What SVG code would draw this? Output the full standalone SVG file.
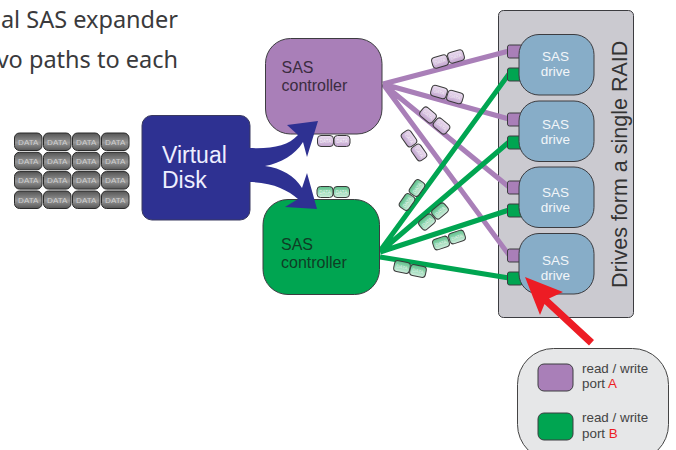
<svg xmlns="http://www.w3.org/2000/svg" width="676" height="450" viewBox="0 0 676 450">
<style>
text{font-family:"Liberation Sans",Arial,sans-serif}
.hd{font-family:"Noto Sans",sans-serif;font-size:23.500px;fill:#3a3a3c;text-anchor:end}
.node{stroke:#3c3c40;stroke-width:1}
.pu{fill:#a97fb8}.gr{fill:#00a551}.bl{fill:#87adc8}
.ctl{font-size:16px;fill:#3b2c40}
.ctg{font-size:16px;fill:#0f3d25}
.dr{font-size:13.5px;fill:#f2f6f9;text-anchor:middle}
.lg{font-size:13.4px;fill:#444}
.red{fill:#ed1c24}
.lp{stroke:#a97fb8;stroke-width:5;fill:none}
.lgn{stroke:#00a551;stroke-width:5;fill:none}
.tile rect{fill:url(#gt);stroke:#2a2a2a;stroke-width:1}
.tile text{font-size:8px;fill:#cfcfcf;text-anchor:middle}
.cp rect{fill:url(#gp);stroke:#3a3a3a;stroke-width:1}
.cg rect{fill:url(#gg);stroke:#3a3a3a;stroke-width:1}
.cp text,.cg text{font-size:4.5px;fill:#fff;text-anchor:middle;fill-opacity:.75}
</style>
<defs>
<linearGradient id="gt" x1="0" y1="0" x2="0" y2="1"><stop offset="0" stop-color="#555"/><stop offset=".55" stop-color="#969696"/><stop offset="1" stop-color="#555"/></linearGradient>
<linearGradient id="gp" x1="0" y1="0" x2="0" y2="1"><stop offset="0" stop-color="#ecdff1"/><stop offset="1" stop-color="#c3a6cf"/></linearGradient>
<linearGradient id="gg" x1="0" y1="0" x2="0" y2="1"><stop offset="0" stop-color="#5dc08a"/><stop offset="1" stop-color="#d2f0e0"/></linearGradient>
</defs>
<text class="hd" x="178" y="28">al SAS expander</text>
<text class="hd" x="178" y="68">vo paths to each</text>

<g id="raid-panel">
<rect x="498.500" y="10.500" width="135" height="307" rx="5" fill="#cbcad0" stroke="#3c3c40"/>
<text transform="translate(627,288) rotate(-90)" font-size="21.500" fill="#333">Drives form a single RAID</text>
</g>

<g id="connectors">
<path class="lp" d="M383,84L509,51M383,84L509,119M383,84L509,187M383,84L509,255"/>
<path class="lgn" d="M380,251L509,74M380,252L509,142M380,252L509,210M380,257L509,278"/>
</g>

<g id="virtual-disk">
<rect x="142" y="115.500" width="108" height="104.500" rx="10" fill="#2e3192" stroke="#3a3a60"/>
<text x="162" y="163" font-size="23" fill="#eef">Virtual</text>
<text x="162" y="188" font-size="23" fill="#eef">Disk</text>
</g>

<g id="controller-a">
<rect class="node pu" x="265.500" y="38.500" width="116.500" height="95.500" rx="25"/>
<text class="ctl" x="281.500" y="73">SAS</text>
<text class="ctl" x="281.500" y="91">controller</text>
</g>
<g id="controller-b">
<rect class="node gr" x="263" y="199.500" width="116.500" height="95" rx="25"/>
<text class="ctg" x="281" y="250">SAS</text>
<text class="ctg" x="281" y="268">controller</text>
</g>

<g id="flow-arrows" fill="#2e3192">
<path d="M249,148C272,149 288,146 298,135L287,125L318,121L307,157L303,142C295,155 281,163 265,166C281,168 295,176 302,188L307,173L317,209L285,207L298,199C288,190 272,182 249,182Z"/>
</g>

<g id="data-tiles">
<g class="tile"><rect x="14.500" y="133" width="27.500" height="17.500" rx="5"/><text x="28.200" y="144.800">DATA</text></g>
<g class="tile"><rect x="43.500" y="133" width="27.500" height="17.500" rx="5"/><text x="57.200" y="144.800">DATA</text></g>
<g class="tile"><rect x="72.500" y="133" width="27.500" height="17.500" rx="5"/><text x="86.200" y="144.800">DATA</text></g>
<g class="tile"><rect x="101.500" y="133" width="27.500" height="17.500" rx="5"/><text x="115.200" y="144.800">DATA</text></g>
<g class="tile"><rect x="14.500" y="152.300" width="27.500" height="17.500" rx="5"/><text x="28.200" y="164.100">DATA</text></g>
<g class="tile"><rect x="43.500" y="152.300" width="27.500" height="17.500" rx="5"/><text x="57.200" y="164.100">DATA</text></g>
<g class="tile"><rect x="72.500" y="152.300" width="27.500" height="17.500" rx="5"/><text x="86.200" y="164.100">DATA</text></g>
<g class="tile"><rect x="101.500" y="152.300" width="27.500" height="17.500" rx="5"/><text x="115.200" y="164.100">DATA</text></g>
<g class="tile"><rect x="14.500" y="171.600" width="27.500" height="17.500" rx="5"/><text x="28.200" y="183.400">DATA</text></g>
<g class="tile"><rect x="43.500" y="171.600" width="27.500" height="17.500" rx="5"/><text x="57.200" y="183.400">DATA</text></g>
<g class="tile"><rect x="72.500" y="171.600" width="27.500" height="17.500" rx="5"/><text x="86.200" y="183.400">DATA</text></g>
<g class="tile"><rect x="101.500" y="171.600" width="27.500" height="17.500" rx="5"/><text x="115.200" y="183.400">DATA</text></g>
<g class="tile"><rect x="14.500" y="191" width="27.500" height="17.500" rx="5"/><text x="28.200" y="202.800">DATA</text></g>
<g class="tile"><rect x="43.500" y="191" width="27.500" height="17.500" rx="5"/><text x="57.200" y="202.800">DATA</text></g>
<g class="tile"><rect x="72.500" y="191" width="27.500" height="17.500" rx="5"/><text x="86.200" y="202.800">DATA</text></g>
<g class="tile"><rect x="101.500" y="191" width="27.500" height="17.500" rx="5"/><text x="115.200" y="202.800">DATA</text></g>
</g>

<g id="chips-a">
<g class="cp" transform="translate(325.500,141)"><rect x="-8" y="-5.500" width="16" height="11" rx="3.500"/><text y="1.600">DATA</text></g>
<g class="cp" transform="translate(342,141)"><rect x="-8" y="-5.500" width="16" height="11" rx="3.500"/><text y="1.600">DATA</text></g>
<g class="cp" transform="translate(440,61.500) rotate(-17)"><rect x="-8" y="-5.500" width="16" height="11" rx="3.500"/><text y="1.600">DATA</text></g>
<g class="cp" transform="translate(456,56.500) rotate(-17)"><rect x="-8" y="-5.500" width="16" height="11" rx="3.500"/><text y="1.600">DATA</text></g>
<g class="cp" transform="translate(439,92) rotate(17)"><rect x="-8" y="-5.500" width="16" height="11" rx="3.500"/><text y="1.600">DATA</text></g>
<g class="cp" transform="translate(455,97) rotate(17)"><rect x="-8" y="-5.500" width="16" height="11" rx="3.500"/><text y="1.600">DATA</text></g>
<g class="cp" transform="translate(428,115) rotate(40)"><rect x="-8" y="-5.500" width="16" height="11" rx="3.500"/><text y="1.600">DATA</text></g>
<g class="cp" transform="translate(441.500,126) rotate(40)"><rect x="-8" y="-5.500" width="16" height="11" rx="3.500"/><text y="1.600">DATA</text></g>
<g class="cp" transform="translate(409,138.500) rotate(55)"><rect x="-8" y="-5.500" width="16" height="11" rx="3.500"/><text y="1.600">DATA</text></g>
<g class="cp" transform="translate(419,152.500) rotate(55)"><rect x="-8" y="-5.500" width="16" height="11" rx="3.500"/><text y="1.600">DATA</text></g>
</g>
<g id="chips-b">
<g class="cg" transform="translate(325,192)"><rect x="-8" y="-5.500" width="16" height="11" rx="3.500"/><text y="1.600">DATA</text></g>
<g class="cg" transform="translate(341.500,192)"><rect x="-8" y="-5.500" width="16" height="11" rx="3.500"/><text y="1.600">DATA</text></g>
<g class="cg" transform="translate(417,188) rotate(-55)"><rect x="-8" y="-5.500" width="16" height="11" rx="3.500"/><text y="1.600">DATA</text></g>
<g class="cg" transform="translate(407,202) rotate(-55)"><rect x="-8" y="-5.500" width="16" height="11" rx="3.500"/><text y="1.600">DATA</text></g>
<g class="cg" transform="translate(440,211) rotate(-40)"><rect x="-8" y="-5.500" width="16" height="11" rx="3.500"/><text y="1.600">DATA</text></g>
<g class="cg" transform="translate(427,222) rotate(-40)"><rect x="-8" y="-5.500" width="16" height="11" rx="3.500"/><text y="1.600">DATA</text></g>
<g class="cg" transform="translate(457,237) rotate(-18)"><rect x="-8" y="-5.500" width="16" height="11" rx="3.500"/><text y="1.600">DATA</text></g>
<g class="cg" transform="translate(441,243) rotate(-18)"><rect x="-8" y="-5.500" width="16" height="11" rx="3.500"/><text y="1.600">DATA</text></g>
<g class="cg" transform="translate(402,267) rotate(12)"><rect x="-8" y="-5.500" width="16" height="11" rx="3.500"/><text y="1.600">DATA</text></g>
<g class="cg" transform="translate(418,271) rotate(12)"><rect x="-8" y="-5.500" width="16" height="11" rx="3.500"/><text y="1.600">DATA</text></g>
</g>

<g id="drive-1">
<rect class="node pu" x="507.500" y="45" width="15" height="13" rx="2"/>
<rect class="node gr" x="507.500" y="68" width="15" height="13" rx="2"/>
<rect class="node bl" x="519" y="34.500" width="75" height="60.500" rx="20"/>
<text class="dr" x="555.500" y="61">SAS</text><text class="dr" x="555.500" y="76">drive</text>
</g>
<g id="drive-2">
<rect class="node pu" x="507.500" y="113" width="15" height="13" rx="2"/>
<rect class="node gr" x="507.500" y="136" width="15" height="13" rx="2"/>
<rect class="node bl" x="519" y="101" width="75" height="60.500" rx="20"/>
<text class="dr" x="555.500" y="129">SAS</text><text class="dr" x="555.500" y="144">drive</text>
</g>
<g id="drive-3">
<rect class="node pu" x="507.500" y="181" width="15" height="13" rx="2"/>
<rect class="node gr" x="507.500" y="204" width="15" height="13" rx="2"/>
<rect class="node bl" x="519" y="167" width="75" height="60.500" rx="20"/>
<text class="dr" x="555.500" y="197">SAS</text><text class="dr" x="555.500" y="212">drive</text>
</g>
<g id="drive-4">
<rect class="node pu" x="507.500" y="249" width="15" height="13" rx="2"/>
<rect class="node gr" x="507.500" y="272" width="15" height="13" rx="2"/>
<rect class="node bl" x="519" y="233.500" width="75" height="60.500" rx="20"/>
<text class="dr" x="555.500" y="265">SAS</text><text class="dr" x="555.500" y="280">drive</text>
</g>

<g id="legend">
<rect x="517.500" y="348.500" width="151" height="112" rx="36" fill="#e6e7e8" stroke="#444"/>
<rect class="node pu" x="538" y="364" width="35" height="27" rx="6"/>
<rect class="node gr" x="538" y="413" width="35" height="27" rx="6"/>
<text class="lg" x="582" y="373">read / write</text>
<text class="lg" x="582" y="388">port <tspan class="red">A</tspan></text>
<text class="lg" x="582" y="422">read / write</text>
<text class="lg" x="582" y="438">port <tspan class="red">B</tspan></text>
</g>

<g id="pointer">
<path class="red" d="M525,277L563,292L549,298.500L594,340L589,345.500L544.500,304L540,315Z"/>
</g>
</svg>
